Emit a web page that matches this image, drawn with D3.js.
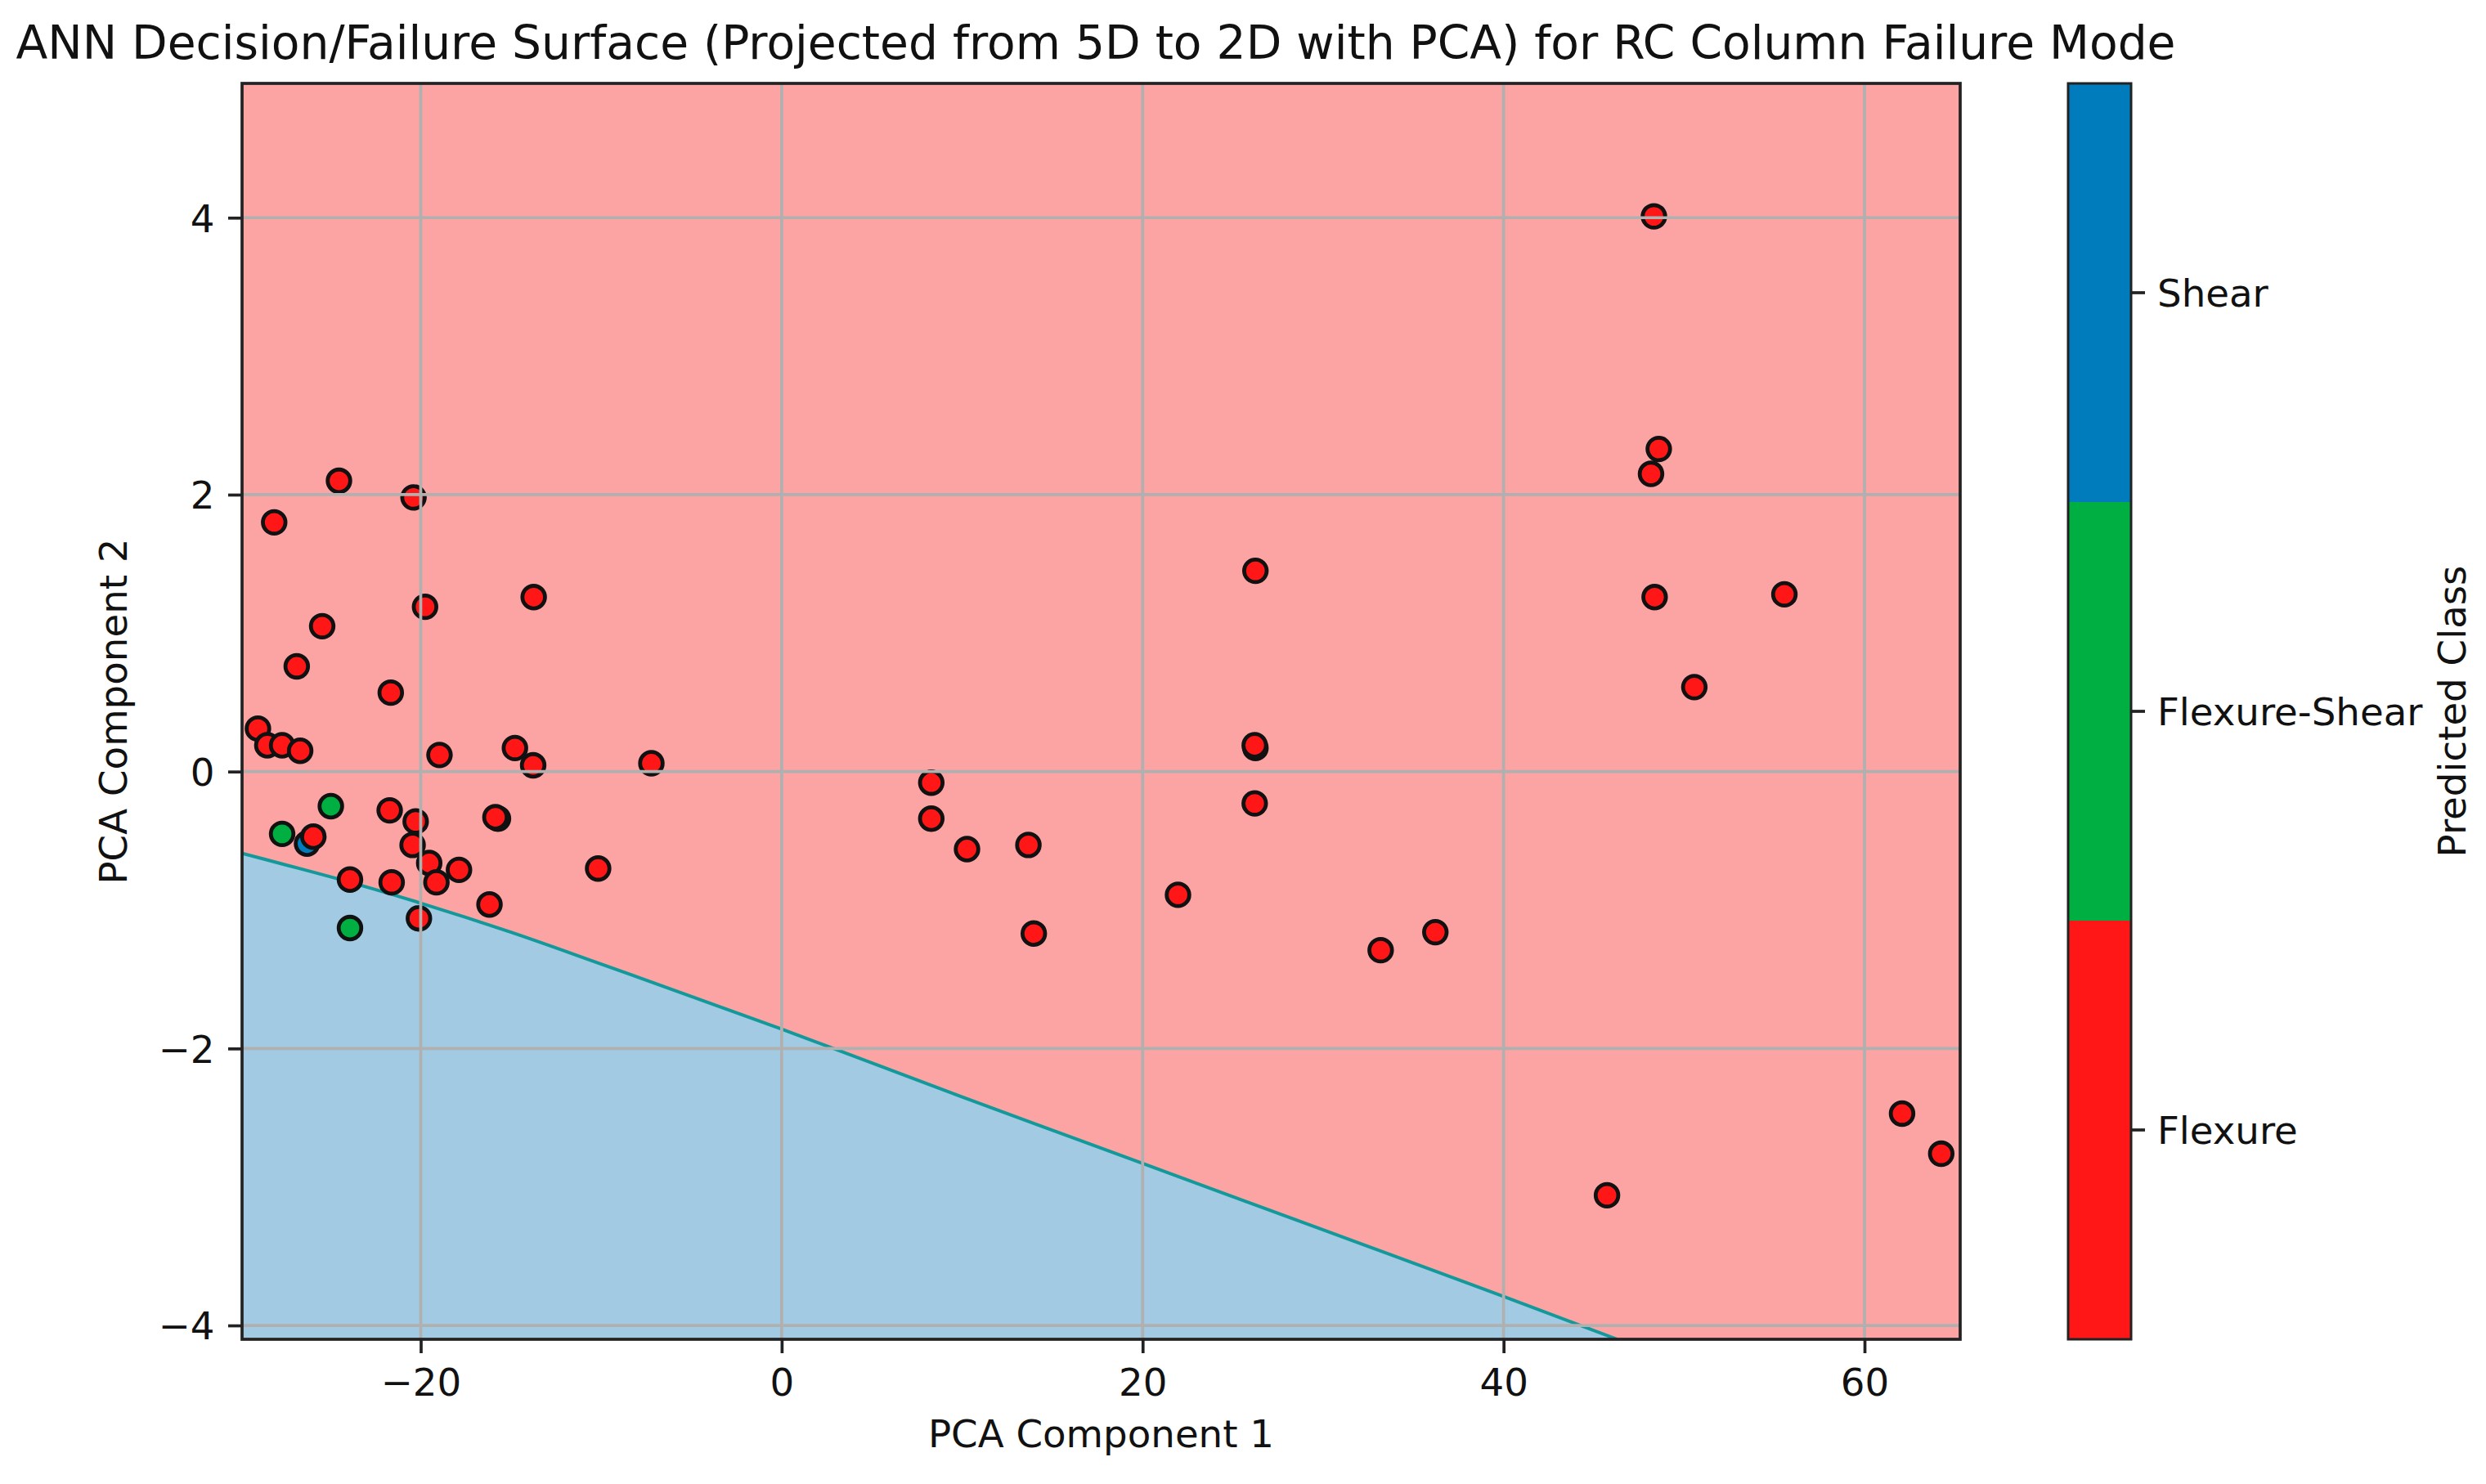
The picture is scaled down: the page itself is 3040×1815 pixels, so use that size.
<!DOCTYPE html>
<html>
<head>
<meta charset="utf-8">
<script src="https://cdn.jsdelivr.net/npm/d3@7"></script>
<style>
  html, body { margin: 0; padding: 0; background: #ffffff; }
  svg { display: block; font-family: "DejaVu Sans", sans-serif; }
</style>
</head>
<body>
<svg id="chart" width="3040" height="1815"></svg>
<script>
// ---------------- data ----------------
const titleText = "ANN Decision/Failure Surface (Projected from 5D to 2D with PCA) for RC Column Failure Mode";
const xLabel = "PCA Component 1";
const yLabel = "PCA Component 2";
const colorbarLabel = "Predicted Class";

const classNames = ["Flexure", "Flexure-Shear", "Shear"];

const xDomain = [-29.9, 65.3];
const yDomain = [-4.1, 4.97];
const xTicks = [-20, 0, 20, 40, 60];
const yTicks = [-4, -2, 0, 2, 4];

// decision boundary between predicted Flexure (above) and Shear (below)
const boundaryX = [-29.9, -27.45, -25, -20, -15, -10, 0, 10, 20, 30, 40, 46.3];
const boundaryY = [-0.59, -0.675, -0.76, -0.95, -1.16, -1.39, -1.86, -2.35, -2.83, -3.31, -3.79, -4.10];

// scatter points (class index into classNames), drawn in this order
const pointX = [
  -26.30,
  -24.53, -20.40, -28.12, -13.74, -19.76, -25.46, -26.87, -21.66, -29.02, -28.50,
  -27.68, -26.68, -18.96, -14.78, -13.77, -7.22, -21.72, -20.28, -15.72, -15.86,
  -25.95, -20.45, -19.53, -17.88, -23.92, -21.61, -19.13, -10.17, -16.19, -20.10,
  26.25, 26.25, 26.21, 26.21, 8.29, 8.29, 10.27, 13.67, 13.97, 21.96,
  33.19, 36.22, 48.33, 48.60, 48.17, 48.37, 55.56, 50.57, 45.73, 62.08, 64.25,
  -24.98, -27.68, -23.92
];
const pointY = [
  -0.52,
  2.10, 1.98, 1.80, 1.26, 1.19, 1.05, 0.76, 0.57, 0.31, 0.19,
  0.19, 0.15, 0.12, 0.17, 0.045, 0.06, -0.28, -0.36, -0.34, -0.33,
  -0.47, -0.53, -0.66, -0.71, -0.78, -0.80, -0.80, -0.70, -0.96, -1.06,
  1.45, 0.17, 0.19, -0.23, -0.08, -0.34, -0.56, -0.53, -1.17, -0.89,
  -1.29, -1.16, 4.01, 2.33, 2.15, 1.26, 1.28, 0.61, -3.06, -2.47, -2.76,
  -0.25, -0.45, -1.13
];
const pointClass = [
  2,
  0, 0, 0, 0, 0, 0, 0, 0, 0, 0,
  0, 0, 0, 0, 0, 0, 0, 0, 0, 0,
  0, 0, 0, 0, 0, 0, 0, 0, 0, 0,
  0, 0, 0, 0, 0, 0, 0, 0, 0, 0,
  0, 0, 0, 0, 0, 0, 0, 0, 0, 0, 0,
  1, 1, 1
];

// ---------------- styles ----------------
const classColors = ["#FF1717", "#00AF41", "#007BBB"];
const regionColors = ["#FCA3A3", "#8FD4A6", "#A3CAE3"];
const fontSize = 46.7;
const titleSize = 56.7;

// ---------------- layout ----------------
const plot = { left: 296, top: 102, right: 2397, bottom: 1638 };
const cbar = { left: 2529, right: 2606 };

const svg = d3.select("#chart");
svg.append("rect").attr("width", 3040).attr("height", 1815).attr("fill", "#ffffff");

const x = d3.scaleLinear().domain(xDomain).range([plot.left, plot.right]);
const y = d3.scaleLinear().domain(yDomain).range([plot.bottom, plot.top]);

svg.append("defs").append("clipPath").attr("id", "plotclip")
  .append("rect")
  .attr("x", plot.left).attr("y", plot.top)
  .attr("width", plot.right - plot.left).attr("height", plot.bottom - plot.top);

const g = svg.append("g").attr("clip-path", "url(#plotclip)");

// Flexure region (whole area)
g.append("rect")
  .attr("x", x(xDomain[0])).attr("y", y(yDomain[1]))
  .attr("width", x(xDomain[1]) - x(xDomain[0]))
  .attr("height", y(yDomain[0]) - y(yDomain[1]))
  .attr("fill", regionColors[0]);

// Shear region (below boundary)
const boundary = boundaryX.map((v, i) => [v, boundaryY[i]]);
const bLine = d3.line().x(d => x(d[0])).y(d => y(d[1])).curve(d3.curveMonotoneX);
const bPath = bLine(boundary);
const corner = `L${x(xDomain[0])},${y(yDomain[0])}Z`;
g.append("path")
  .attr("d", bPath + corner)
  .attr("fill", regionColors[2]);

// boundary stripe
g.append("path")
  .attr("d", bPath)
  .attr("fill", "none")
  .attr("stroke", "#14999A")
  .attr("stroke-width", 4);

// points
const pts = pointX.map((v, i) => ({ x: v, y: pointY[i], c: pointClass[i] }));
g.selectAll("circle.pt").data(pts).enter().append("circle")
  .attr("class", "pt")
  .attr("cx", d => x(d.x)).attr("cy", d => y(d.y))
  .attr("r", 13.8)
  .attr("fill", d => classColors[d.c])
  .attr("stroke", "#111111")
  .attr("stroke-width", 4.8);

// grid (drawn above the scatter, as in the reference)
const grid = svg.append("g").attr("clip-path", "url(#plotclip)");
grid.selectAll("line.gx").data(xTicks).enter().append("line")
  .attr("x1", d => x(d)).attr("x2", d => x(d))
  .attr("y1", plot.top).attr("y2", plot.bottom)
  .attr("stroke", "#b0b0b0").attr("stroke-width", 3.7);
grid.selectAll("line.gy").data(yTicks).enter().append("line")
  .attr("y1", d => y(d)).attr("y2", d => y(d))
  .attr("x1", plot.left).attr("x2", plot.right)
  .attr("stroke", "#b0b0b0").attr("stroke-width", 3.7);

// axes
const xAxis = svg.append("g")
  .attr("transform", `translate(0,${plot.bottom})`)
  .call(d3.axisBottom(x).tickValues(xTicks).tickSize(17).tickPadding(19).tickSizeOuter(0));
const yAxis = svg.append("g")
  .attr("transform", `translate(${plot.left},0)`)
  .call(d3.axisLeft(y).tickValues(yTicks).tickSize(17).tickPadding(16.5).tickSizeOuter(0));

[xAxis, yAxis].forEach(a => {
  a.select(".domain").remove();
  a.selectAll(".tick line").attr("stroke", "#222").attr("stroke-width", 3.7);
  a.selectAll(".tick text").attr("fill", "#111").style("font-size", fontSize + "px")
    .style("font-family", "'DejaVu Sans', sans-serif");
});
yAxis.selectAll(".tick text").attr("dy", "0.36em");

// spines
svg.append("rect")
  .attr("x", plot.left).attr("y", plot.top)
  .attr("width", plot.right - plot.left).attr("height", plot.bottom - plot.top)
  .attr("fill", "none").attr("stroke", "#222").attr("stroke-width", 3.7);

// labels
svg.append("text")
  .attr("x", 1340).attr("y", 72)
  .attr("text-anchor", "middle")
  .style("font-size", titleSize + "px").attr("fill", "#111")
  .text(titleText);

svg.append("text")
  .attr("x", (plot.left + plot.right) / 2).attr("y", 1770)
  .attr("text-anchor", "middle")
  .style("font-size", fontSize + "px").attr("fill", "#111")
  .text(xLabel);

svg.append("text")
  .attr("transform", `translate(155,${(plot.top + plot.bottom) / 2}) rotate(-90)`)
  .attr("text-anchor", "middle")
  .style("font-size", fontSize + "px").attr("fill", "#111")
  .text(yLabel);

// colorbar
const cb = d3.scaleBand().domain(classNames.slice().reverse()).range([plot.top, plot.bottom]).padding(0);
const cbg = svg.append("g");
cbg.selectAll("rect.cb").data(classNames).enter().append("rect")
  .attr("x", cbar.left).attr("width", cbar.right - cbar.left)
  .attr("y", d => cb(d)).attr("height", cb.bandwidth())
  .attr("fill", (d, i) => classColors[i]);
cbg.append("rect")
  .attr("x", cbar.left).attr("y", plot.top)
  .attr("width", cbar.right - cbar.left).attr("height", plot.bottom - plot.top)
  .attr("fill", "none").attr("stroke", "#222").attr("stroke-width", 3);

const cbAxis = svg.append("g")
  .attr("transform", `translate(${cbar.right},0)`)
  .call(d3.axisRight(cb).tickSize(17).tickPadding(15).tickSizeOuter(0));
cbAxis.select(".domain").remove();
cbAxis.selectAll(".tick line").attr("stroke", "#222").attr("stroke-width", 3.7);
cbAxis.selectAll(".tick text").attr("fill", "#111").attr("dy", "0.36em")
  .style("font-size", fontSize + "px").style("font-family", "'DejaVu Sans', sans-serif");

svg.append("text")
  .attr("transform", `translate(3015,${(plot.top + plot.bottom) / 2}) rotate(-90)`)
  .attr("text-anchor", "middle")
  .style("font-size", fontSize + "px").attr("fill", "#111")
  .text(colorbarLabel);
</script>
</body>
</html>
